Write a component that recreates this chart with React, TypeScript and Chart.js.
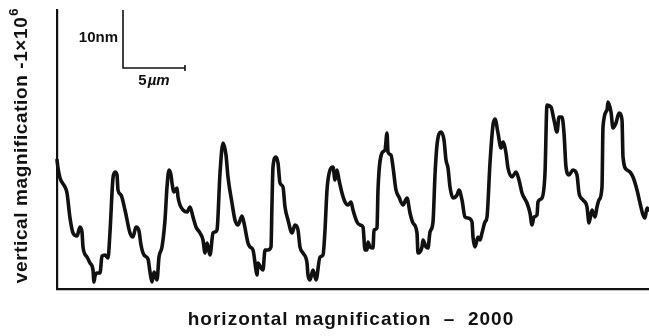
import { useEffect, useRef } from "react";
import { Chart, registerables } from "chart.js";

Chart.register(...registerables);

// Surface profile trace (horizontal position, trace height)
const traceX = [
  0, 1, 3, 8, 10, 13, 16, 20, 23, 25,
  26, 30, 33, 36, 37, 38, 40, 43, 45, 48,
  51, 53, 56, 58, 60, 61, 64, 68, 73, 76,
  79, 82, 84, 87, 91, 93, 95, 97, 100, 102,
  105, 108, 110, 112, 114, 115, 117, 120, 121, 123,
  126, 130, 133, 136, 139, 143, 146, 148, 150, 151,
  153, 156, 158, 160, 163, 166, 169, 171, 175, 178,
  181, 185, 187, 191, 193, 196, 199, 200, 201, 204,
  206, 208, 211, 214, 215, 216, 219, 221, 223, 226,
  228, 231, 235, 238, 241, 243, 246, 250, 251, 253,
  256, 259, 263, 266, 268, 270, 273, 276, 278, 280,
  282, 285, 288, 291, 294, 296, 300, 303, 306, 308,
  310, 311, 313, 316, 317, 320, 321, 325, 328, 330,
  331, 334, 336, 339, 342, 346, 350, 353, 356, 360,
  361, 365, 366, 369, 371, 373, 376, 378, 380, 384,
  387, 389, 391, 393, 396, 400, 402, 405, 408, 411,
  415, 416, 418, 421, 423, 425, 428, 430, 433, 436,
  438, 441, 444, 446, 449, 451, 455, 459, 462, 465,
  470, 473, 475, 477, 480, 481, 485, 488, 490, 494,
  497, 500, 502, 505, 507, 509, 512, 516, 520, 522,
  526, 530, 532, 535, 538, 540, 542, 545, 546, 550,
  551, 554, 556, 559, 562, 565, 566, 570, 573, 576,
  580, 583, 586, 588, 590, 592,
];

const traceY = [
  129, 121, 111, 102, 96, 71, 56, 53, 62, 57,
  42, 32, 26, 19, 7, 13, 16, 16, 33, 34,
  31, 57, 111, 117, 114, 99, 94, 79, 56, 52,
  62, 58, 44, 34, 30, 17, 7, 17, 9, 32,
  42, 69, 102, 119, 114, 106, 97, 101, 92, 84,
  79, 77, 82, 72, 62, 56, 49, 36, 46, 42,
  34, 56, 57, 59, 116, 146, 134, 112, 86, 69,
  64, 73, 66, 46, 42, 39, 19, 14, 26, 21,
  19, 39, 39, 42, 86, 122, 132, 126, 106, 102,
  82, 69, 56, 64, 59, 42, 36, 26, 14, 9,
  19, 9, 32, 34, 59, 99, 119, 122, 109, 119,
  109, 96, 87, 84, 87, 79, 67, 64, 62, 39,
  39, 47, 42, 41, 59, 61, 99, 136, 139, 156,
  137, 134, 122, 99, 92, 84, 91, 76, 66, 56,
  36, 42, 49, 42, 41, 57, 67, 114, 144, 157,
  149, 129, 121, 102, 91, 94, 99, 89, 72, 71,
  67, 52, 42, 52, 49, 56, 67, 72, 126, 164,
  170, 156, 141, 147, 136, 121, 112, 117, 109, 96,
  86, 76, 64, 72, 74, 87, 91, 116, 184, 182,
  169, 157, 172, 172, 156, 122, 114, 119, 114, 96,
  89, 82, 66, 79, 72, 82, 89, 102, 162, 179,
  187, 177, 161, 166, 176, 169, 132, 119, 117, 112,
  99, 86, 74, 71, 81, 79,
];

// Scale bar (corner, 10 nm vertical, 5 µm horizontal)
const scaleBarX = [66, 66, 128];
const scaleBarY = [279, 221, 221];
const scaleBarEndTickY = [224, 218];

const xAxisMin = 0;
const xAxisMax = 592;
const yAxisMin = 0;
const yAxisMax = 279;

const xLabel = "horizontal magnification  \u2013  2000";
const yLabelMain = "vertical magnification -1\u00d710";
const yLabelSup = "6";
const barVLabel = "10nm";
const barHLabelNum = "5";
const barHLabelUnit = "\u00b5m";

const INK = "#111111";
const FONT = "'Liberation Sans', Arial, Helvetica, sans-serif";

export default function App() {
  const ref = useRef<HTMLCanvasElement | null>(null);

  useEffect(() => {
    if (!ref.current) return;

    const labelPlugin = {
      id: "profileLabels",
      afterDraw(chart: any) {
        const ctx: CanvasRenderingContext2D = chart.ctx;
        const xs = chart.scales.x;
        const ys = chart.scales.y;
        ctx.save();
        ctx.fillStyle = INK;

        // x axis title
        ctx.font = `bold 19px ${FONT}`;
        (ctx as any).letterSpacing = "1px";
        ctx.textAlign = "center";
        ctx.textBaseline = "middle";
        ctx.fillText(xLabel, 351, 320);

        // y axis title (rotated, with superscript)
        (ctx as any).letterSpacing = "0.6px";
        ctx.save();
        ctx.translate(20, 146);
        ctx.rotate(-Math.PI / 2);
        ctx.font = `bold 19px ${FONT}`;
        const wMain = ctx.measureText(yLabelMain).width;
        ctx.font = `bold 13px ${FONT}`;
        const wSup = ctx.measureText(yLabelSup).width;
        const start = -(wMain + wSup) / 2;
        ctx.textAlign = "left";
        ctx.textBaseline = "alphabetic";
        ctx.font = `bold 19px ${FONT}`;
        ctx.fillText(yLabelMain, start, 7);
        ctx.font = `bold 13px ${FONT}`;
        ctx.fillText(yLabelSup, start + wMain + 1, -2);
        ctx.restore();
        (ctx as any).letterSpacing = "0px";

        // scale bar labels
        const bx = xs.getPixelForValue(scaleBarX[0]);
        const byTop = ys.getPixelForValue(scaleBarY[0]);
        const byBot = ys.getPixelForValue(scaleBarY[1]);
        const bxEnd = xs.getPixelForValue(scaleBarX[2]);
        ctx.font = `bold 15px ${FONT}`;
        ctx.textAlign = "right";
        ctx.textBaseline = "middle";
        ctx.fillText(barVLabel, bx - 5, (byTop + byBot) / 2 - 1);

        ctx.textBaseline = "middle";
        ctx.textAlign = "left";
        ctx.font = `bold 15px ${FONT}`;
        const w5 = ctx.measureText(barHLabelNum).width;
        ctx.font = `italic bold 15px ${FONT}`;
        const wu = ctx.measureText(barHLabelUnit).width;
        const cx = (bx + bxEnd) / 2;
        const sx = cx - (w5 + wu + 1) / 2;
        ctx.font = `bold 15px ${FONT}`;
        ctx.fillText(barHLabelNum, sx, byBot + 13);
        ctx.font = `italic bold 15px ${FONT}`;
        ctx.fillText(barHLabelUnit, sx + w5 + 1, byBot + 13);
        ctx.restore();
      },
    };

    const tracePoints = traceX.map((x, i) => ({ x, y: traceY[i] }));
    const barPoints: any[] = scaleBarX.map((x, i) => ({ x, y: scaleBarY[i] }));
    barPoints.push({ x: scaleBarX[2], y: null });
    barPoints.push({ x: scaleBarX[2], y: scaleBarEndTickY[0] });
    barPoints.push({ x: scaleBarX[2], y: scaleBarEndTickY[1] });

    const chart = new Chart(ref.current, {
      type: "line",
      data: {
        datasets: [
          {
            data: tracePoints,
            borderColor: INK,
            borderWidth: 3.6,
            pointRadius: 0,
            fill: false,
            cubicInterpolationMode: "monotone",
            borderJoinStyle: "round",
            borderCapStyle: "round",
            clip: 4,
          } as any,
          {
            data: barPoints,
            borderColor: INK,
            borderWidth: 1.6,
            pointRadius: 0,
            fill: false,
            tension: 0,
            spanGaps: false,
            clip: 4,
          } as any,
        ],
      },
      options: {
        animation: false,
        responsive: false,
        parsing: false as any,
        layout: { padding: { left: 57, top: 10, right: 0, bottom: 47 }, autoPadding: false } as any,
        plugins: {
          legend: { display: false },
          tooltip: { enabled: false },
          title: { display: false },
        },
        events: [],
        scales: {
          x: {
            type: "linear",
            min: xAxisMin,
            max: xAxisMax,
            ticks: { display: false },
            grid: { display: false, drawTicks: false, tickLength: 0 },
            border: { display: true, color: INK, width: 2.2 },
          },
          y: {
            type: "linear",
            min: yAxisMin,
            max: yAxisMax,
            ticks: { display: false },
            grid: { display: false, drawTicks: false, tickLength: 0 },
            border: { display: true, color: INK, width: 2.2 },
          },
        },
      },
      plugins: [labelPlugin],
    });

    return () => chart.destroy();
  }, []);

  return (
    <div style={{ position: "absolute", left: 0, top: 0, width: 649, height: 336, background: "#fff" }}>
      <canvas ref={ref} width={649} height={336} style={{ display: "block" }} />
    </div>
  );
}
